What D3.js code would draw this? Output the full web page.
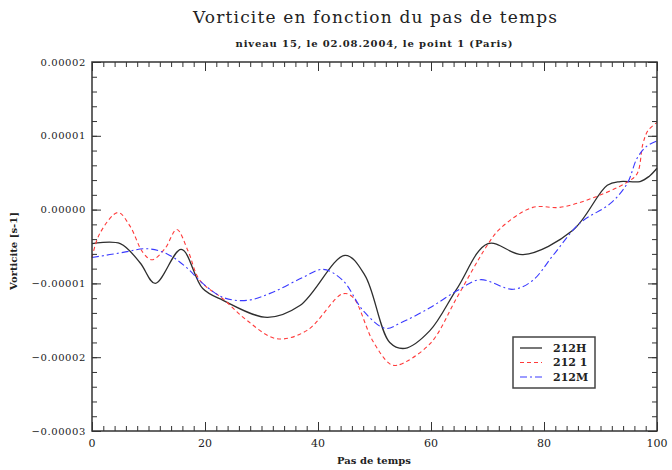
<!DOCTYPE html>
<html>
<head>
<meta charset="utf-8">
<script src="https://cdn.jsdelivr.net/npm/d3@7"></script>
<style>
body{margin:0;background:#fff}
text{font-family:"DejaVu Serif","Liberation Serif",serif;fill:#222}
</style>
</head>
<body>
<div id="chart"></div>
<script>
// values in units of 1e-5 s-1
var unit = 1e-5

var hX = [0,5,8.5,11.2,15.8,19.6,23.2,31,36.8,44.8,48.3,52.7,55.4,59.8,64.6,70.1,76.3,85.1,91.2,93.5,97,98.6,100]
var hY = [-0.46,-0.46,-0.72,-1.00,-0.54,-1.07,-1.23,-1.46,-1.30,-0.62,-0.89,-1.80,-1.88,-1.64,-1.07,-0.46,-0.61,-0.28,0.33,0.38,0.38,0.45,0.56]

var iX = [0,1.4,4.6,6.7,9,10.6,12.9,15,17,19.1,23.2,27.4,32.7,38,44.4,46.2,49.7,52.7,54,59.8,64.6,69.9,72.2,78,82.8,88.7,94.7,96.5,97.5,98.4,100]
var iY = [-0.65,-0.32,-0.04,-0.22,-0.58,-0.68,-0.53,-0.27,-0.56,-0.96,-1.21,-1.50,-1.75,-1.64,-1.14,-1.19,-1.78,-2.09,-2.11,-1.82,-1.19,-0.49,-0.26,0.03,0.03,0.16,0.37,0.49,0.89,1.07,1.18]

var mX = [0,5.5,9.7,13.3,16.8,19.6,23.2,27.4,32,37.3,40.9,44.4,48,51.9,54.5,59.8,64.6,68.7,74.5,78,81.6,86.4,91.7,94.7,96.5,98.2,100]
var mY = [-0.65,-0.58,-0.53,-0.60,-0.79,-1.00,-1.19,-1.23,-1.12,-0.92,-0.81,-0.96,-1.37,-1.61,-1.54,-1.33,-1.10,-0.95,-1.08,-0.96,-0.62,-0.18,0.08,0.35,0.70,0.86,0.93]

var seriesNames = ["212H","212 1","212M"]
var xTicks = [0,20,40,60,80,100]
var yTicks = [2e-5,1e-5,0,-1e-5,-2e-5,-3e-5]

var W = 672, H = 470
var m = {left:92, right:15, top:62, bottom:39}
var svg = d3.select("#chart").append("svg").attr("width",W).attr("height",H)

var x = d3.scaleLinear().domain([0,100]).range([m.left, W-m.right])
var y = d3.scaleLinear().domain([-3e-5,2e-5]).range([H-m.bottom, m.top])

var series = [
  {name:seriesNames[0], xs:hX, ys:hY, color:"#2e2e2e", dash:null, w:1.3},
  {name:seriesNames[1], xs:iX, ys:iY, color:"#ff3a3a", dash:"4,3", w:1.1},
  {name:seriesNames[2], xs:mX, ys:mY, color:"#3a3aff", dash:"7,3,2,3", w:1.1}
]

var line = d3.line()
  .x(function(d){return x(d[0])})
  .y(function(d){return y(d[1]*unit)})
  .curve(d3.curveCatmullRom.alpha(0.5))

series.forEach(function(s){
  var pts = s.xs.map(function(v,i){return [v, s.ys[i]]})
  svg.append("path").datum(pts)
    .attr("d",line)
    .attr("fill","none")
    .attr("stroke",s.color)
    .attr("stroke-width",s.w)
    .attr("stroke-dasharray",s.dash)
})

// ticks on all four sides, pointing inward
var xMinor = d3.range(0,101,2)
var yMinor = d3.range(-30,21,2).map(function(v){return v*1e-6})

function ticks(g, axis){
  g.call(axis)
  g.select(".domain").remove()
  g.selectAll("line").attr("stroke","#333").attr("stroke-width",1)
}

ticks(svg.append("g").attr("transform","translate(0,"+(H-m.bottom)+")"),
  d3.axisBottom(x).tickValues(xMinor).tickSize(-5).tickFormat(""))
ticks(svg.append("g").attr("transform","translate(0,"+(H-m.bottom)+")"),
  d3.axisBottom(x).tickValues(xTicks).tickSize(-9).tickFormat(""))
ticks(svg.append("g").attr("transform","translate(0,"+m.top+")"),
  d3.axisTop(x).tickValues(xMinor).tickSize(-5).tickFormat(""))
ticks(svg.append("g").attr("transform","translate(0,"+m.top+")"),
  d3.axisTop(x).tickValues(xTicks).tickSize(-9).tickFormat(""))
ticks(svg.append("g").attr("transform","translate("+m.left+",0)"),
  d3.axisLeft(y).tickValues(yMinor).tickSize(-5).tickFormat(""))
ticks(svg.append("g").attr("transform","translate("+m.left+",0)"),
  d3.axisLeft(y).tickValues(yTicks).tickSize(-9).tickFormat(""))
ticks(svg.append("g").attr("transform","translate("+(W-m.right)+",0)"),
  d3.axisRight(y).tickValues(yMinor).tickSize(-5).tickFormat(""))
ticks(svg.append("g").attr("transform","translate("+(W-m.right)+",0)"),
  d3.axisRight(y).tickValues(yTicks).tickSize(-9).tickFormat(""))

svg.append("rect")
  .attr("x",m.left).attr("y",m.top)
  .attr("width",W-m.left-m.right).attr("height",H-m.top-m.bottom)
  .attr("fill","none").attr("stroke","#333").attr("stroke-width",1.5)

// tick labels
svg.selectAll(".xl").data(xTicks).enter().append("text")
  .attr("x",function(d){return x(d)}).attr("y",H-m.bottom+16)
  .attr("text-anchor","middle").attr("font-size","11px")
  .text(function(d){return d})

svg.selectAll(".yl").data(yTicks).enter().append("text")
  .attr("x",m.left-6).attr("y",function(d){return y(d)})
  .attr("dy","0.35em").attr("text-anchor","end").attr("font-size","10px")
  .attr("letter-spacing","0.6px")
  .text(function(d){return d3.format(".5f")(d)})

// titles
svg.append("text").attr("x",375).attr("y",23).attr("text-anchor","middle")
  .attr("font-size","17px").attr("textLength",364).attr("lengthAdjust","spacing")
  .text("Vorticite en fonction du pas de temps")
svg.append("text").attr("x",374).attr("y",47).attr("text-anchor","middle")
  .attr("font-size","10px").attr("font-weight","bold").attr("textLength",277).attr("lengthAdjust","spacing")
  .text("niveau 15, le 02.08.2004, le point 1 (Paris)")
svg.append("text").attr("x",374).attr("y",464).attr("text-anchor","middle")
  .attr("font-size","10px").attr("font-weight","bold")
  .text("Pas de temps")
svg.append("text").attr("transform","translate(17,251) rotate(-90)")
  .attr("text-anchor","middle").attr("font-size","10px").attr("font-weight","bold")
  .text("Vorticite [s-1]")

// legend
var lg = svg.append("g")
lg.append("rect").attr("x",513).attr("y",337).attr("width",82).attr("height",51)
  .attr("fill","#fff").attr("stroke","#444").attr("stroke-width",1.5)
series.forEach(function(s,i){
  var yy = 348 + i*14.5
  lg.append("line").attr("x1",520).attr("x2",542).attr("y1",yy).attr("y2",yy)
    .attr("stroke",s.color).attr("stroke-width",s.w).attr("stroke-dasharray",s.dash)
  lg.append("text").attr("x",553).attr("y",yy).attr("dy","0.35em")
    .attr("font-size","11px").attr("font-weight","bold").text(s.name)
})
</script>
</body>
</html>
